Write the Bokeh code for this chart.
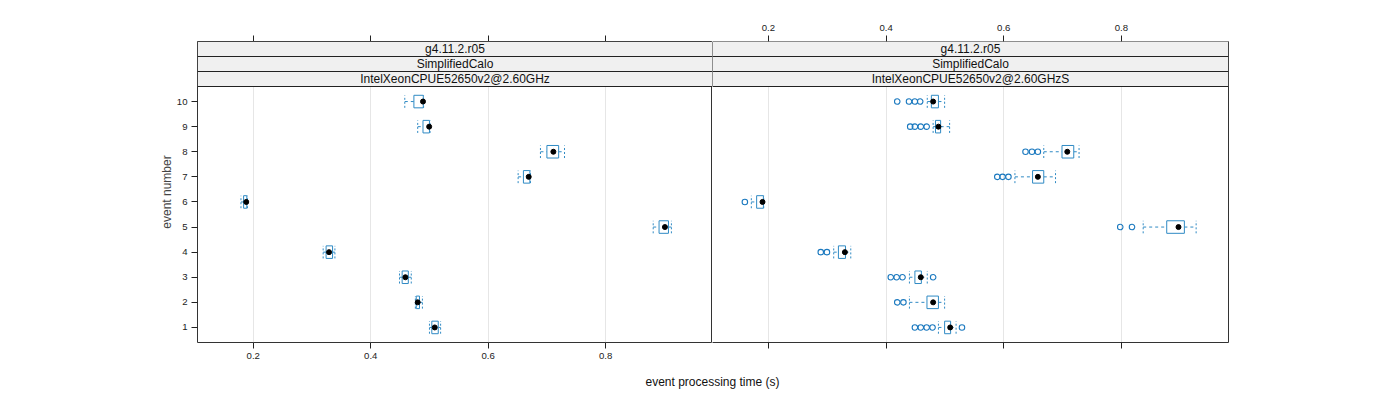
from bokeh.plotting import figure
from bokeh.models import Range1d, FixedTicker, BoxAnnotation, Label, LinearAxis
from bokeh.layouts import row, column
from bokeh.embed import file_html
from bokeh.resources import INLINE

FONT = "Liberation Sans"

# ---------------- data ----------------
events = [1, 2, 3, 4, 5, 6, 7, 8, 9, 10]
x_ticks = [0.2, 0.4, 0.6, 0.8]

strip_version = "g4.11.2.r05"
strip_test = "SimplifiedCalo"
strip_cpu_left = "IntelXeonCPUE52650v2@2.60GHz"
strip_cpu_right = "IntelXeonCPUE52650v2@2.60GHzS"

x_title = "event processing time (s)"
y_title = "event number"

# left panel (IntelXeonCPUE52650v2@2.60GHz)
left_whisker_lo = [0.500, 0.476, 0.449, 0.319, 0.881, 0.179, 0.651, 0.689, 0.480, 0.458]
left_q1 = [0.504, 0.4775, 0.4535, 0.324, 0.891, 0.1835, 0.660, 0.700, 0.489, 0.4735]
left_median = [0.509, 0.480, 0.459, 0.329, 0.901, 0.188, 0.669, 0.711, 0.4995, 0.489]
left_q3 = [0.515, 0.483, 0.464, 0.335, 0.907, 0.189, 0.671, 0.720, 0.500, 0.4895]
left_whisker_hi = [0.519, 0.488, 0.469, 0.339, 0.912, 0.190, 0.672, 0.730, 0.501, 0.4900]
left_outlier_event = []
left_outlier_value = []

# right panel (IntelXeonCPUE52650v2@2.60GHzS)
right_whisker_lo = [0.489, 0.4397, 0.4397, 0.311, 0.837, 0.171, 0.619, 0.668, 0.480, 0.470]
right_q1 = [0.4995, 0.4695, 0.449, 0.319, 0.877, 0.180, 0.649, 0.699, 0.484, 0.477]
right_median = [0.509, 0.480, 0.459, 0.330, 0.897, 0.190, 0.658, 0.708, 0.489, 0.480]
right_q3 = [0.5097, 0.489, 0.460, 0.331, 0.907, 0.1915, 0.668, 0.719, 0.4927, 0.489]
right_whisker_hi = [0.519, 0.4995, 0.470, 0.340, 0.927, 0.192, 0.688, 0.728, 0.508, 0.4995]
right_outlier_event = [1, 1, 1, 1, 1, 2, 2, 3, 3, 3, 3, 4, 4, 5, 5, 6, 7, 7, 7,
                       8, 8, 8, 9, 9, 9, 9, 10, 10, 10, 10]
right_outlier_value = [0.449, 0.459, 0.469, 0.479, 0.529, 0.419, 0.4295,
                       0.408, 0.418, 0.428, 0.480, 0.289, 0.2995, 0.798, 0.818,
                       0.160, 0.589, 0.598, 0.608, 0.637, 0.648, 0.658,
                       0.441, 0.449, 0.459, 0.469, 0.419, 0.439, 0.449, 0.458]

# ---------------- layout / style ----------------
X_RANGE = (0.105, 0.982)
Y_LO, Y_HI = 0.4, 10.6
ROW_H = 368
TOP = 41
BOTTOM = 26
PANEL_PX = ROW_H - TOP - BOTTOM - 45
STRIP_PX = 15
unit = (Y_HI - Y_LO) / PANEL_PX
strip_h = STRIP_PX * unit
Y_END = Y_HI + 3 * strip_h

BOX = "#2f8ac4"
OUT = "#1b79bf"
BORDER = "#333333"
BOX_H = 0.5


def style_axis(ax, labels=True):
    ax.major_tick_in = 0
    ax.major_tick_out = 6
    ax.minor_tick_in = 0
    ax.minor_tick_out = 0
    ax.axis_line_color = None
    ax.major_tick_line_color = "#222222"
    ax.major_label_text_font = FONT
    ax.major_label_text_font_size = "9.6px"
    ax.major_label_text_color = "#222222"
    ax.axis_label_text_font = FONT
    ax.axis_label_text_font_style = "normal"
    ax.axis_label_text_font_size = "12px"
    if not labels:
        ax.major_label_overrides = {t: "" for t in x_ticks}


def make_panel(width, border_left, border_right, wlo, q1, med, q3, whi,
               out_e, out_v, cpu_label, left_panel, top_labels, bottom_labels):
    p = figure(width=width, height=ROW_H,
               x_range=Range1d(*X_RANGE), y_range=Range1d(Y_LO, Y_END),
               output_backend="svg", toolbar_location=None, tools="",
               min_border_left=border_left, min_border_right=border_right,
               min_border_top=TOP, min_border_bottom=BOTTOM,
               y_axis_location="left" if left_panel else None,
               x_axis_location="below")
    p.background_fill_color = "white"
    p.border_fill_color = "white"
    if left_panel:
        p.outline_line_color = BORDER
        p.outline_line_width = 1
    else:
        p.outline_line_color = None

    # bottom axis
    p.xaxis.ticker = FixedTicker(ticks=x_ticks)
    for ax in p.xaxis:
        style_axis(ax, labels=bottom_labels)
        ax.major_label_standoff = 4
        if not left_panel:
            ax.axis_line_color = BORDER
    # top axis
    top = LinearAxis(ticker=FixedTicker(ticks=x_ticks))
    style_axis(top, labels=top_labels)
    top.major_label_standoff = 5
    p.add_layout(top, "above")

    if left_panel:
        for ax in p.yaxis:
            ax.ticker = FixedTicker(ticks=events)
            style_axis(ax)
            ax.major_label_overrides = {}
            ax.bounds = (Y_LO, Y_HI)
            ax.axis_label = y_title
            ax.major_label_standoff = 4
            ax.axis_label_standoff = 0
    else:
        # right border of the right panel
        rax = LinearAxis(ticker=FixedTicker(ticks=[]))
        rax.major_tick_out = 0
        rax.major_tick_in = 0
        rax.minor_tick_out = 0
        rax.minor_tick_in = 0
        rax.axis_line_color = BORDER
        rax.major_label_text_font_size = "0px"
        p.add_layout(rax, "right")

    p.xgrid.ticker = FixedTicker(ticks=x_ticks)
    p.xgrid.grid_line_color = "#e6e6e6"
    p.ygrid.visible = False

    # whiskers
    p.segment(x0=wlo, y0=events, x1=q1, y1=events, line_color=BOX,
              line_width=1, line_dash="3 3")
    p.segment(x0=q3, y0=events, x1=whi, y1=events, line_color=BOX,
              line_width=1, line_dash="3 3")
    lo_y = [e - BOX_H / 2 for e in events]
    hi_y = [e + BOX_H / 2 for e in events]
    p.segment(x0=wlo, y0=lo_y, x1=wlo, y1=hi_y, line_color=BOX,
              line_width=1, line_dash="2 2")
    p.segment(x0=whi, y0=lo_y, x1=whi, y1=hi_y, line_color=BOX,
              line_width=1, line_dash="2 2")
    # boxes
    p.hbar(y=events, left=q1, right=q3, height=BOX_H, fill_color="white",
           line_color=BOX, line_width=1)
    # outliers
    if out_e:
        p.scatter(x=out_v, y=out_e, marker="circle", size=5.5,
                  fill_color=None, line_color=OUT, line_width=1.1)
    # medians
    p.scatter(x=med, y=events, marker="circle", size=5, fill_color="black",
              line_color="black")

    # strips
    strip_texts = [cpu_label, strip_test, strip_version]
    xmid = (X_RANGE[0] + X_RANGE[1]) / 2
    for k, txt in enumerate(strip_texts):
        b = Y_HI + k * strip_h
        p.add_layout(BoxAnnotation(bottom=b, top=b + strip_h,
                                   fill_color="#f0f0f0", fill_alpha=1,
                                   line_color="#222222", line_width=1,
                                   line_alpha=1))
        p.add_layout(Label(x=xmid, y=b + strip_h / 2, text=txt,
                           text_align="center", text_baseline="middle",
                           text_font=FONT, text_font_size="12px",
                           text_color="#111111"))
    return p


p1 = make_panel(712, 197, 0, left_whisker_lo, left_q1, left_median, left_q3,
                left_whisker_hi, left_outlier_event, left_outlier_value,
                strip_cpu_left, True, False, True)
p2 = make_panel(688, 0, 172, right_whisker_lo, right_q1, right_median, right_q3,
                right_whisker_hi, right_outlier_event, right_outlier_value,
                strip_cpu_right, False, True, False)

p3 = figure(width=1400, height=400 - ROW_H, x_range=Range1d(0, 1400),
            y_range=Range1d(0, 400 - ROW_H), output_backend="svg",
            toolbar_location=None, tools="", min_border=0,
            x_axis_location=None, y_axis_location=None)
p3.outline_line_color = None
p3.grid.visible = False
p3.add_layout(Label(x=712, y=(400 - ROW_H) - 13, text=x_title,
                    text_align="center", text_baseline="middle",
                    text_font=FONT, text_font_size="12px",
                    text_color="#111111"))

layout = column(row(p1, p2, spacing=0), p3, spacing=0)
open("out.html", "w").write(file_html(layout, INLINE))
